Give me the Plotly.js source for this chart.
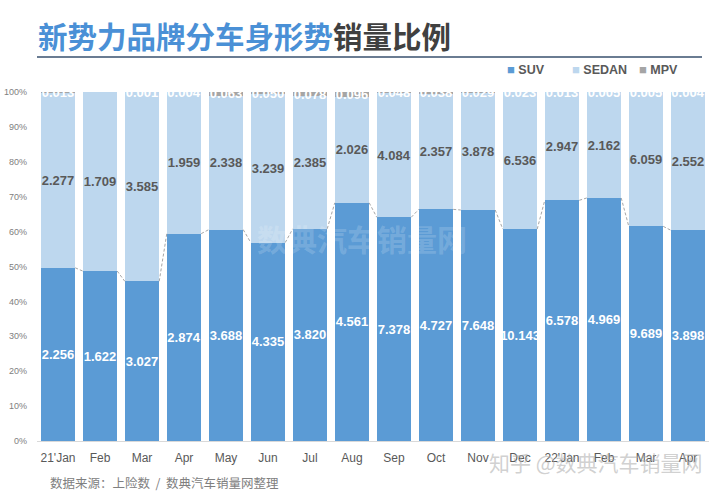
<!DOCTYPE html>
<html>
<head>
<meta charset="utf-8">
<script src="https://cdn.plot.ly/plotly-3.0.1.min.js"></script>
<style>html,body{margin:0;padding:0;background:#fff;}#chart{width:720px;height:491px;}</style>
</head>
<body>
<div id="chart"></div>
<script>
const months = ["21'Jan","Feb","Mar","Apr","May","Jun","Jul","Aug","Sep","Oct","Nov","Dec","22'Jan","Feb","Mar","Apr"];
const suv   = [2.256,1.622,3.027,2.874,3.688,4.335,3.820,4.561,7.378,4.727,7.648,10.143,6.578,4.969,9.689,3.898];
const sedan = [2.277,1.709,3.585,1.959,2.338,3.239,2.385,2.026,4.084,2.357,3.878,6.536,2.947,2.162,6.059,2.552];
const mpv   = [0.013,0.000,0.001,0.004,0.063,0.050,0.078,0.096,0.048,0.038,0.029,0.023,0.013,0.005,0.005,0.004];
const yTicks = [0,10,20,30,40,50,60,70,80,90,100];
const seriesNames = ['SUV','SEDAN','MPV'];
const seriesColors = ['#5b9bd5','#bdd7ee','#a5a5a5'];

const idx = months.map((m,i)=>i);
const barW = 0.82;
const valFont = {family:'Liberation Sans, Arial, sans-serif', size:13, weight:'bold'};

function barTrace(name, vals, color, textColor){
  return {
    type:'bar', name:name, x:idx, y:vals, width:barW,
    marker:{color:color, line:{width:0}},
    text: vals.map(v=>v.toFixed(3)), textposition:'inside', insidetextanchor:'middle',
    textangle:0, constraintext:'none',
    insidetextfont:Object.assign({color:textColor}, valFont),
    hoverinfo:'skip', showlegend:false
  };
}

// SUV share for connector lines (same normalisation as barnorm percent)
const suvPct = idx.map(i => 100*suv[i]/(suv[i]+sedan[i]+mpv[i]));
const lx = [], ly = [];
for (let i=0;i<idx.length-1;i++){
  lx.push(idx[i]+barW/2, idx[i+1]-barW/2, null);
  ly.push(suvPct[i], suvPct[i+1], null);
}

const data = [
  barTrace(seriesNames[0], suv, seriesColors[0], '#ffffff'),
  barTrace(seriesNames[1], sedan, seriesColors[1], '#595959'),
  barTrace(seriesNames[2], mpv, seriesColors[2], '#ffffff'),
  {type:'scatter', mode:'lines', x:lx, y:ly, showlegend:false, hoverinfo:'skip',
   line:{color:'#a6a6a6', width:1, dash:'3px,2px'}}
];

// paper coords helpers: plot area spans x 37..709, y 92..441 px
const px = x => (x-37)/672;
const py = y => (441-y)/349;

const legendX = [505, 570, 637];
const legendAnns = seriesNames.map((n,i)=>({
  text:'<span style="color:'+seriesColors[i]+';font-size:13px">■</span> '+n,
  xref:'paper', yref:'paper', x:px(legendX[i]), y:py(70), xanchor:'left', yanchor:'middle',
  showarrow:false, font:{family:'Liberation Sans, sans-serif', size:12.5, color:'#595959', weight:'bold'}
}));

const layout = {
  width:720, height:491,
  margin:{l:37, r:11, t:92, b:50},
  paper_bgcolor:'#ffffff', plot_bgcolor:'#ffffff',
  barmode:'stack', barnorm:'percent',
  showlegend:false,
  title:{text:'<b><span style="color:#4a90d6">新势力品牌分车身形势</span>销量比例</b>',
         font:{family:'Noto Sans CJK SC, sans-serif', size:29.5, color:'#404040'},
         x:38/720, xref:'container', xanchor:'left', y:1-38/491, yref:'container', yanchor:'middle'},
  xaxis:{range:[-0.5, idx.length-0.5], tickvals:idx, ticktext:months, showgrid:false, zeroline:false,
         showline:true, linecolor:'#d9d9d9', linewidth:1, ticks:'', ticklabelstandoff:6,
         tickfont:{family:'Liberation Sans, sans-serif', size:12, color:'#595959'},
         fixedrange:true},
  yaxis:{range:[0,100], tickvals:yTicks, ticktext:yTicks.map(t=>t+'%'), showgrid:false, zeroline:false,
         showline:false, ticks:'', ticklabelstandoff:9,
         tickfont:{family:'Liberation Sans, sans-serif', size:9, color:'#808080'}, fixedrange:true},
  shapes:[
    {type:'line', xref:'paper', yref:'paper', x0:0, x1:px(702), y0:py(57), y1:py(57),
     line:{color:'#6a7c92', width:2}}
  ],
  annotations:legendAnns.concat([
    {text:'数据来源：上险数  /  数典汽车销量网整理', xref:'paper', yref:'paper',
     x:px(48), y:py(482), xanchor:'left', yanchor:'middle', showarrow:false,
     font:{family:'Noto Sans CJK SC, sans-serif', size:12.5, color:'#808080'}},
    {text:'数典汽车销量网', xref:'paper', yref:'paper',
     x:px(255), y:py(238), xanchor:'left', yanchor:'middle', showarrow:false,
     font:{family:'Noto Sans CJK SC, sans-serif', size:30, color:'rgba(255,255,255,0.18)', weight:'bold'}},
    {text:'知乎 @数典汽车销量网', xref:'paper', yref:'paper',
     x:px(487), y:py(462), xanchor:'left', yanchor:'middle', showarrow:false,
     font:{family:'Noto Sans CJK SC, sans-serif', size:21, color:'rgba(170,170,170,0.55)'}}
  ])
};

Plotly.newPlot('chart', data, layout, {displayModeBar:false, staticPlot:true});
</script>
</body>
</html>
